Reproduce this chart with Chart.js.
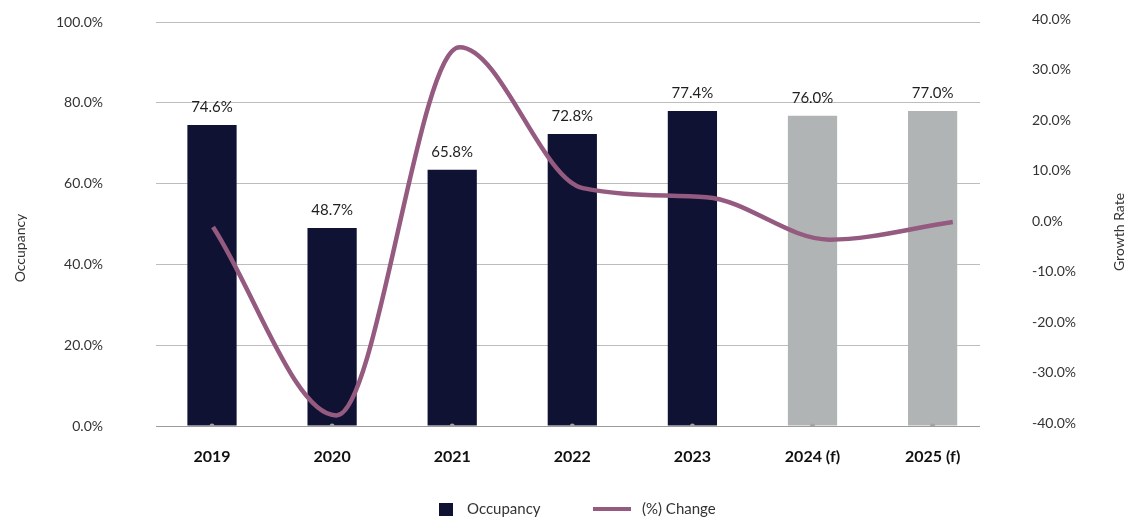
<!DOCTYPE html>
<html><head><meta charset="utf-8">
<script src="https://cdn.jsdelivr.net/npm/chart.js@4.4.0/dist/chart.umd.min.js"></script>
<style>html,body{margin:0;padding:0;background:#fff;overflow:hidden}</style>
</head><body>
<canvas id="c" width="1130" height="523" style="display:block;width:1130px;height:523px"></canvas>
<script>
// ---- data ----
const categories = ['2019', '2020', '2021', '2022', '2023', '2024 (f)', '2025 (f)'];
const occupancy = [74.5, 49.0, 63.4, 72.3, 78.0, 76.8, 78.0];
const occupancyLabels = ['74.6%', '48.7%', '65.8%', '72.8%', '77.4%', '76.0%', '77.0%'];
const forecast = [false, false, false, false, false, true, true];
const changePct = [-0.6, -37.9, 35.0, 7.1, 5.3, -3.1, 0.4];
const baselineMarks = [0, 0, 0, 0, 0, 0, 0];
const leftAxisTitle = 'Occupancy';
const rightAxisTitle = 'Growth Rate';

// ---- styles ----
const NAVY = '#0f1233';
const GREY = '#b1b4b4';
const PLUM = '#955a80';
const FONT = 'Lato, "Open Sans", sans-serif';
Chart.defaults.font.family = FONT;

const valueLabels = {
  id: 'valueLabels',
  afterDatasetsDraw(chart) {
    const meta = chart.getDatasetMeta(0);
    const ctx = chart.ctx;
    ctx.save();
    ctx.font = '15px ' + FONT;
    ctx.fillStyle = '#1e1e1e';
    ctx.textAlign = 'center';
    ctx.textBaseline = 'middle';
    meta.data.forEach((el, i) => ctx.fillText(occupancyLabels[i], el.x, el.y - 18));
    ctx.restore();
  }
};

const titlesAndLegend = {
  id: 'titlesAndLegend',
  afterDraw(chart) {
    const ctx = chart.ctx;
    const dpr = chart.currentDevicePixelRatio || 1;
    ctx.save();
    ctx.fillStyle = '#333';
    ctx.font = '14px ' + FONT;
    ctx.textAlign = 'center';
    ctx.textBaseline = 'middle';
    ctx.setTransform(dpr, 0, 0, dpr, 0, 0);
    ctx.translate(20, 248); ctx.rotate(-Math.PI / 2); ctx.fillText(leftAxisTitle, 0, 0);
    ctx.setTransform(dpr, 0, 0, dpr, 0, 0);
    ctx.translate(1119, 232); ctx.rotate(-Math.PI / 2); ctx.fillText(rightAxisTitle, 0, 0);
    ctx.setTransform(dpr, 0, 0, dpr, 0, 0);
    // legend
    const ly = 509;
    ctx.fillStyle = NAVY;
    ctx.fillRect(439, 503, 14, 13);
    ctx.font = '15px ' + FONT;
    ctx.fillStyle = '#333';
    ctx.textAlign = 'left';
    ctx.fillText(chart.data.datasets[0].label, 467, ly);
    ctx.strokeStyle = PLUM;
    ctx.lineWidth = 4;
    ctx.beginPath(); ctx.moveTo(593, ly); ctx.lineTo(631, ly); ctx.stroke();
    ctx.fillText(chart.data.datasets[1].label, 642, ly);
    ctx.restore();
  }
};

const chart = new Chart(document.getElementById('c'), {
  type: 'bar',
  data: {
    datasets: [
      {
        type: 'bar', label: 'Occupancy',
        data: occupancy.map((v, i) => ({ x: i, y: v })),
        backgroundColor: forecast.map(f => f ? GREY : NAVY),
        xAxisID: 'x', yAxisID: 'y', grouped: false,
        barPercentage: 0.41, categoryPercentage: 1, order: 3
      },
      {
        type: 'line', label: '(%) Change',
        data: changePct.map((v, i) => ({ x: i, y: v })),
        borderColor: PLUM, borderWidth: 4.5, pointRadius: 0,
        cubicInterpolationMode: 'monotone', fill: false,
        xAxisID: 'x2', yAxisID: 'y2', order: 1
      },
      {
        type: 'line', label: 'marks',
        data: baselineMarks.map((v, i) => ({ x: i, y: v })),
        showLine: false, pointRadius: 2.5, pointBorderWidth: 0,
        pointBackgroundColor: '#a3a3a3', xAxisID: 'x', yAxisID: 'y', order: 2
      }
    ]
  },
  options: {
    responsive: false,
    animation: false,
    layout: { padding: { top: 22, left: 0, right: 0, bottom: 0 } },
    plugins: { legend: { display: false }, tooltip: { enabled: false } },
    scales: {
      x: {
        type: 'linear', position: 'bottom', min: -0.4663, max: 6.3946,
        bounds: 'data', offset: false,
        grid: { display: false }, border: { display: false },
        afterBuildTicks: s => { s.ticks = categories.map((_, i) => ({ value: i })); },
        ticks: {
          autoSkip: false, maxRotation: 0,
          padding: 13, color: '#111', font: { size: 16, weight: 'bold' },
          callback: v => categories[v]
        },
        afterFit: s => { s.height = 97; }
      },
      x2: {
        type: 'linear', position: 'bottom', display: true, bounds: 'data', offset: false,
        min: -0.4623, max: 6.2206,
        grid: { display: false }, border: { display: false }, ticks: { display: false },
        afterFit: s => { s.height = 0; }
      },
      y: {
        position: 'left', min: 0, max: 100,
        ticks: { stepSize: 20, padding: 3, color: '#333', font: { size: 14 },
          callback: v => v.toFixed(1) + '%' },
        grid: { color: c => (c.tick && c.tick.value === 0) ? '#9c9c9c' : '#bdbdbd',
          drawTicks: true, tickLength: 50, tickColor: 'rgba(0,0,0,0)', lineWidth: 1 },
        border: { display: false },
        afterFit: s => { s.width = 156; }
      },
      y2: {
        position: 'right', min: -40, max: 40,
        ticks: { stepSize: 10, padding: 3, labelOffset: -3, color: '#333', font: { size: 14 },
          callback: v => v.toFixed(1) + '%' },
        grid: { display: true, drawOnChartArea: false, drawTicks: true, tickLength: 49,
          color: 'rgba(0,0,0,0)', tickColor: 'rgba(0,0,0,0)' },
        border: { display: false },
        afterFit: s => { s.width = 150; }
      }
    }
  },
  plugins: [valueLabels, titlesAndLegend]
});
</script>
</body></html>
